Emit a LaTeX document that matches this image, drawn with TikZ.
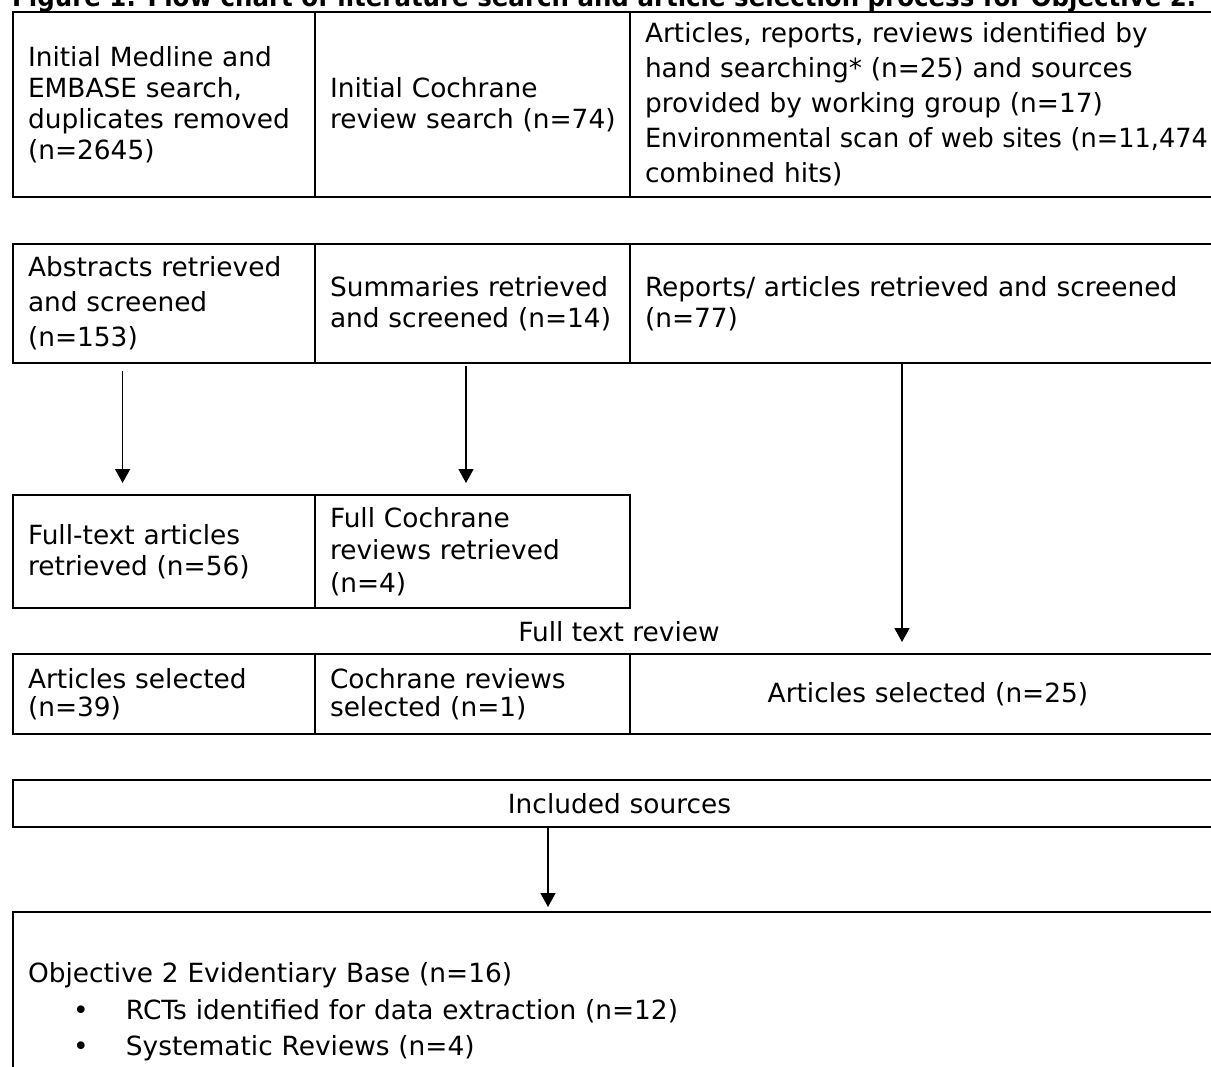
\documentclass[tikz,border=0pt]{standalone}
\usepackage{fontspec}
\setmainfont{DejaVu Sans}
\usetikzlibrary{positioning,calc,arrows.meta}

\tikzset{
  cell/.style={draw, line width=2pt, anchor=north west, inner xsep=15pt, inner ysep=0pt,
    align=left, font=\fontsize{26.4}{31}\selectfont},
  flowarrow/.style={line width=1.5pt, -{Triangle[width=15pt,length=14pt]}},
}

\begin{document}
\begin{tikzpicture}[x=1pt,y=-1pt]
    \useasboundingbox (0,0) rectangle (1211,1067);
    \clip (0,0) rectangle (1211,1067);

    % title, cut at the top
    \node [anchor=base west, inner sep=0pt, font=\bfseries\fontsize{26.4}{31}\selectfont] (title) at (12,7)
        {\scalebox{0.927}[1]{Figure 1: Flow chart of literature search and article selection process for Objective 2.}};

    % searches
    \node [cell, text width=272pt, minimum height=185pt] (medline) at (12,11)
        {Initial Medline and\\EMBASE search,\\duplicates removed\\(n=2645)};
    \node [cell, text width=285pt, minimum height=185pt] (cochrane) at (314,11)
        {Initial Cochrane\\\mbox{review search (n=74)}};
    \node [cell, text width=566pt, minimum height=185pt, font=\fontsize{26.4}{35}\selectfont] (handsearch) at (629,11)
        {Articles, reports, reviews identified by\\hand searching* (n=25) and sources\\provided by working group (n=17)\\
         \scalebox{0.97}[1]{Environmental scan of web sites (n=11,474}\\
         combined hits)};

    % screening
    \node [cell, text width=272pt, minimum height=119pt, font=\fontsize{26.4}{35}\selectfont] (abstracts) at (12,243)
        {Abstracts retrieved\\and screened\\(n=153)};
    \node [cell, text width=285pt, minimum height=119pt] (summaries) at (314,243)
        {Summaries retrieved\\and screened (n=14)};
    \node [cell, text width=566pt, minimum height=119pt] (reports) at (629,243)
        {Reports/ articles retrieved and screened\\(n=77)};

    % retrieval
    \node [cell, text width=272pt, minimum height=113pt] (fulltext) at (12,494)
        {Full-text articles\\retrieved (n=56)};
    \node [cell, text width=285pt, minimum height=113pt, font=\fontsize{26.4}{32.5}\selectfont] (fullcochrane) at (314,494)
        {Full Cochrane\\reviews retrieved\\(n=4)};

    \node [anchor=base, inner sep=0pt, font=\fontsize{26.4}{31}\selectfont] (review) at (619,641) {Full text review};

    % selection
    \node [cell, text width=272pt, minimum height=80pt, font=\fontsize{26.4}{28}\selectfont] (selected) at (12,653)
        {Articles selected\\(n=39)};
    \node [cell, text width=285pt, minimum height=80pt, font=\fontsize{26.4}{28}\selectfont] (cochsel) at (314,653)
        {Cochrane reviews\\selected (n=1)};
    \node [cell, text width=566pt, minimum height=80pt, align=center] (reportsel) at (629,653)
        {Articles selected (n=25)};

    % included
    \node [cell, text width=1183pt, minimum height=47pt, align=center] (included) at (12,779)
        {Included sources};
    \node [cell, text width=1183pt, minimum height=200pt] (base) at (12,911)
        {Objective 2 Evidentiary Base (n=16)\\[6pt]
         \hspace*{45pt}\makebox[53pt][l]{\textbullet}RCTs identified for data extraction (n=12)\\[5pt]
         \hspace*{45pt}\makebox[53pt][l]{\textbullet}Systematic Reviews (n=4)};

    % arrows
    \draw [flowarrow, shorten <=7pt, shorten >=11pt] ([xshift=110.6pt]abstracts.south west) -- ([xshift=110.6pt]fulltext.north west);
    \draw [flowarrow, shorten <=2pt, shorten >=11pt] ([xshift=152pt]summaries.south west) -- ([xshift=152pt]fullcochrane.north west);
    \draw [flowarrow, shorten >=11pt] ([xshift=273pt]reports.south west) -- ([xshift=273pt]reportsel.north west);
    \draw [flowarrow, shorten >=4pt] ([xshift=536pt]included.south west) -- ([xshift=536pt]base.north west);
\end{tikzpicture}
\end{document}
